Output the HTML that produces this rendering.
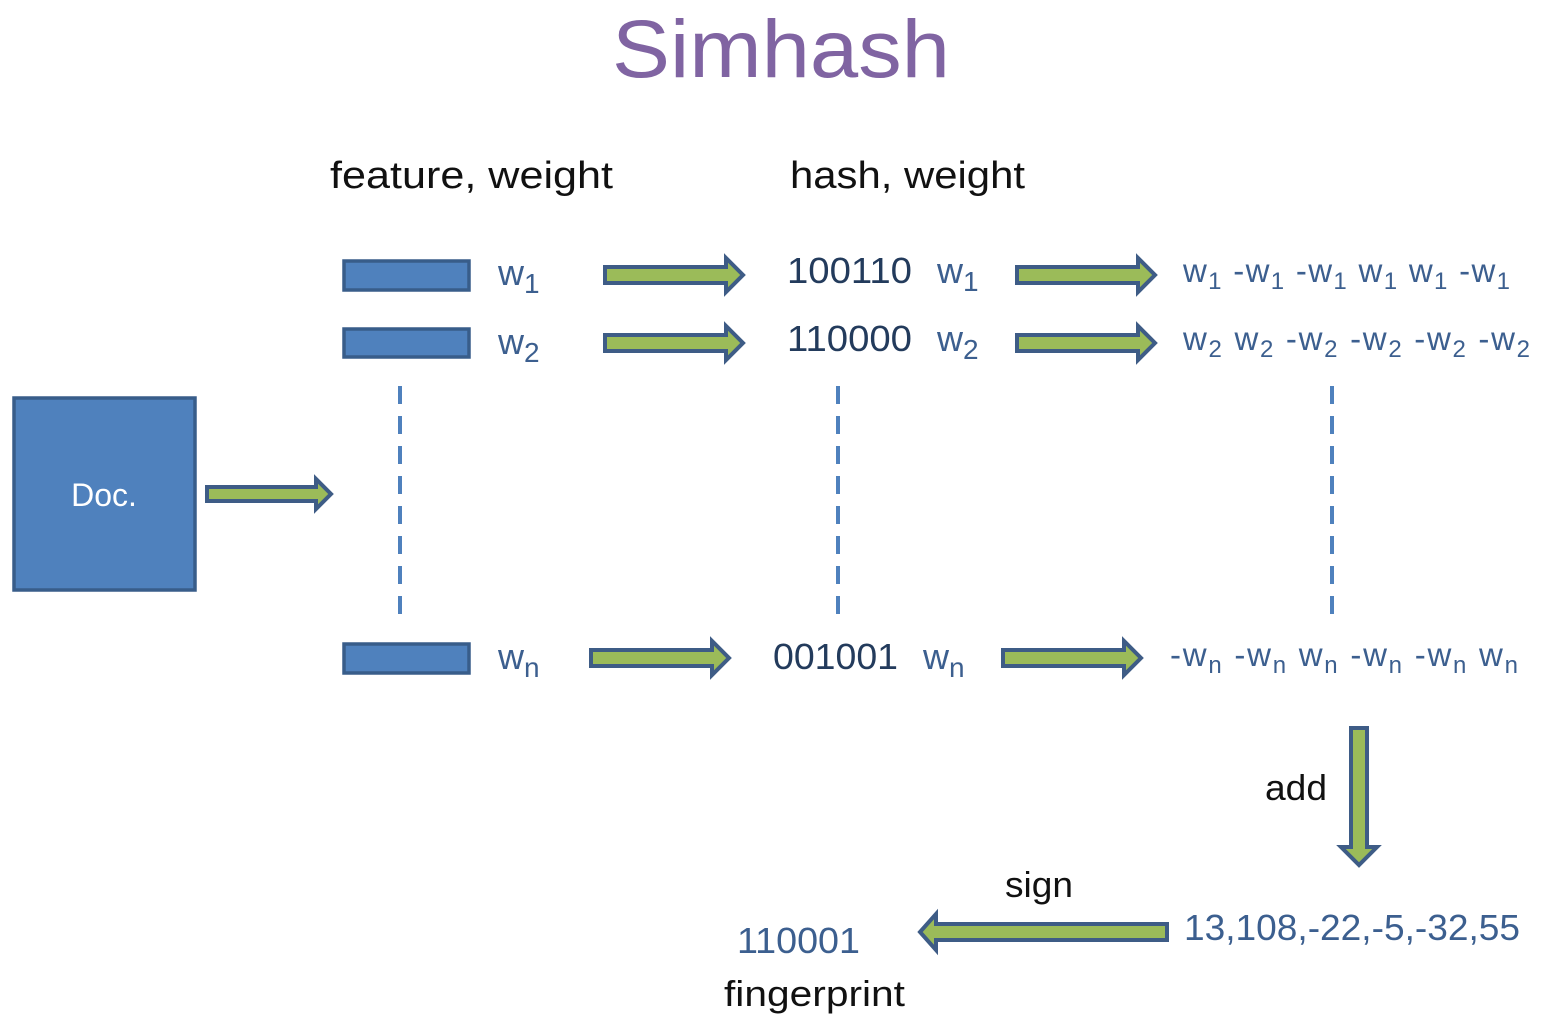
<!DOCTYPE html>
<html><head><meta charset="utf-8"><style>
html,body{margin:0;padding:0;background:#fff;}
svg{display:block;}
text{font-family:"Liberation Sans",sans-serif;}
.b{fill:#3c5f8f;}
.k{fill:#111;}
.a{fill:#9bbb59;stroke:#3e5c86;stroke-width:4;stroke-linejoin:miter;}
.r{fill:#4f81bd;stroke:#385d8a;stroke-width:3.5;}
.d{stroke:#4f81bd;stroke-width:4;stroke-dasharray:18,12;}
</style></head><body>
<svg width="1556" height="1026" viewBox="0 0 1556 1026">
<text x="781" y="77" text-anchor="middle" font-size="82" fill="#8064a2" textLength="338" lengthAdjust="spacingAndGlyphs">Simhash</text>
<text x="330" y="188" font-size="38" class="k" textLength="283" lengthAdjust="spacingAndGlyphs">feature, weight</text>
<text x="790" y="188" font-size="38" class="k" textLength="235" lengthAdjust="spacingAndGlyphs">hash, weight</text>

<rect class="r" x="344" y="261" width="125" height="29"/>
<rect class="r" x="344" y="329" width="125" height="28"/>
<rect class="r" x="344" y="644" width="125" height="29"/>
<rect class="r" x="14" y="398" width="181" height="192"/>
<text x="104" y="506" text-anchor="middle" font-size="32" fill="#fff">Doc.</text>

<line class="d" x1="400" y1="386" x2="400" y2="618"/>
<line class="d" x1="838" y1="386" x2="838" y2="618"/>
<line class="d" x1="1332" y1="386" x2="1332" y2="618"/>

<polygon class="a" points="605,267 726,267 726,258 743,275 726,292 726,283 605,283"/>
<polygon class="a" points="1017,267 1138,267 1138,258 1155,275 1138,292 1138,283 1017,283"/>
<polygon class="a" points="605,335 726,335 726,326 743,343 726,360 726,351 605,351"/>
<polygon class="a" points="1017,335 1138,335 1138,326 1155,343 1138,360 1138,351 1017,351"/>
<polygon class="a" points="591,650 712,650 712,641 729,658 712,675 712,666 591,666"/>
<polygon class="a" points="1003,650 1124,650 1124,641 1141,658 1124,675 1124,666 1003,666"/>
<polygon class="a" points="207,487 316,487 316,479 331,494 316,509 316,501 207,501"/>
<polygon class="a" points="1351,728 1367,728 1367,847 1377,847 1359,865 1341,847 1351,847"/>
<polygon class="a" points="1167,924 936,924 936,914 920,932 936,950 936,940 1167,940"/>

<g class="b" font-size="36">
<text x="498" y="285">w<tspan font-size="28" dy="8">1</tspan></text>
<text x="498" y="354">w<tspan font-size="28" dy="8">2</tspan></text>
<text x="498" y="669">w<tspan font-size="28" dy="8">n</tspan></text>
</g>
<g font-size="36" fill="#233b5c">
<text x="787" y="283" textLength="125" lengthAdjust="spacingAndGlyphs">100110</text>
<text x="787" y="351" textLength="125" lengthAdjust="spacingAndGlyphs">110000</text>
<text x="773" y="669" textLength="125" lengthAdjust="spacingAndGlyphs">001001</text>
</g>
<g class="b" font-size="36">
<text x="937" y="283">w<tspan font-size="28" dy="8">1</tspan></text>
<text x="937" y="351">w<tspan font-size="28" dy="8">2</tspan></text>
<text x="923" y="669">w<tspan font-size="28" dy="8">n</tspan></text>
</g>
<g class="b" font-size="33">
<text x="1183" y="282" textLength="327" lengthAdjust="spacing">w<tspan font-size="24" dy="7">1</tspan><tspan dy="-7"> -w</tspan><tspan font-size="24" dy="7">1</tspan><tspan dy="-7"> -w</tspan><tspan font-size="24" dy="7">1</tspan><tspan dy="-7"> w</tspan><tspan font-size="24" dy="7">1</tspan><tspan dy="-7"> w</tspan><tspan font-size="24" dy="7">1</tspan><tspan dy="-7"> -w</tspan><tspan font-size="24" dy="7">1</tspan></text>
<text x="1183" y="350" textLength="347" lengthAdjust="spacing">w<tspan font-size="24" dy="7">2</tspan><tspan dy="-7"> w</tspan><tspan font-size="24" dy="7">2</tspan><tspan dy="-7"> -w</tspan><tspan font-size="24" dy="7">2</tspan><tspan dy="-7"> -w</tspan><tspan font-size="24" dy="7">2</tspan><tspan dy="-7"> -w</tspan><tspan font-size="24" dy="7">2</tspan><tspan dy="-7">  -w</tspan><tspan font-size="24" dy="7">2</tspan></text>
<text x="1170" y="666" textLength="348" lengthAdjust="spacing">-w<tspan font-size="24" dy="7">n</tspan><tspan dy="-7"> -w</tspan><tspan font-size="24" dy="7">n</tspan><tspan dy="-7"> w</tspan><tspan font-size="24" dy="7">n</tspan><tspan dy="-7"> -w</tspan><tspan font-size="24" dy="7">n</tspan><tspan dy="-7"> -w</tspan><tspan font-size="24" dy="7">n</tspan><tspan dy="-7"> w</tspan><tspan font-size="24" dy="7">n</tspan></text>
</g>

<text x="1265" y="800" font-size="36" class="k" textLength="62" lengthAdjust="spacingAndGlyphs">add</text>
<text x="1005" y="897" font-size="36" class="k" textLength="68" lengthAdjust="spacingAndGlyphs">sign</text>
<text x="1184" y="940" font-size="36" class="b" textLength="336" lengthAdjust="spacingAndGlyphs">13,108,-22,-5,-32,55</text>
<text x="737" y="953" font-size="36" class="b" textLength="123" lengthAdjust="spacingAndGlyphs">110001</text>
<text x="724" y="1006" font-size="36" class="k" textLength="181" lengthAdjust="spacingAndGlyphs">fingerprint</text>
</svg>
</body></html>
